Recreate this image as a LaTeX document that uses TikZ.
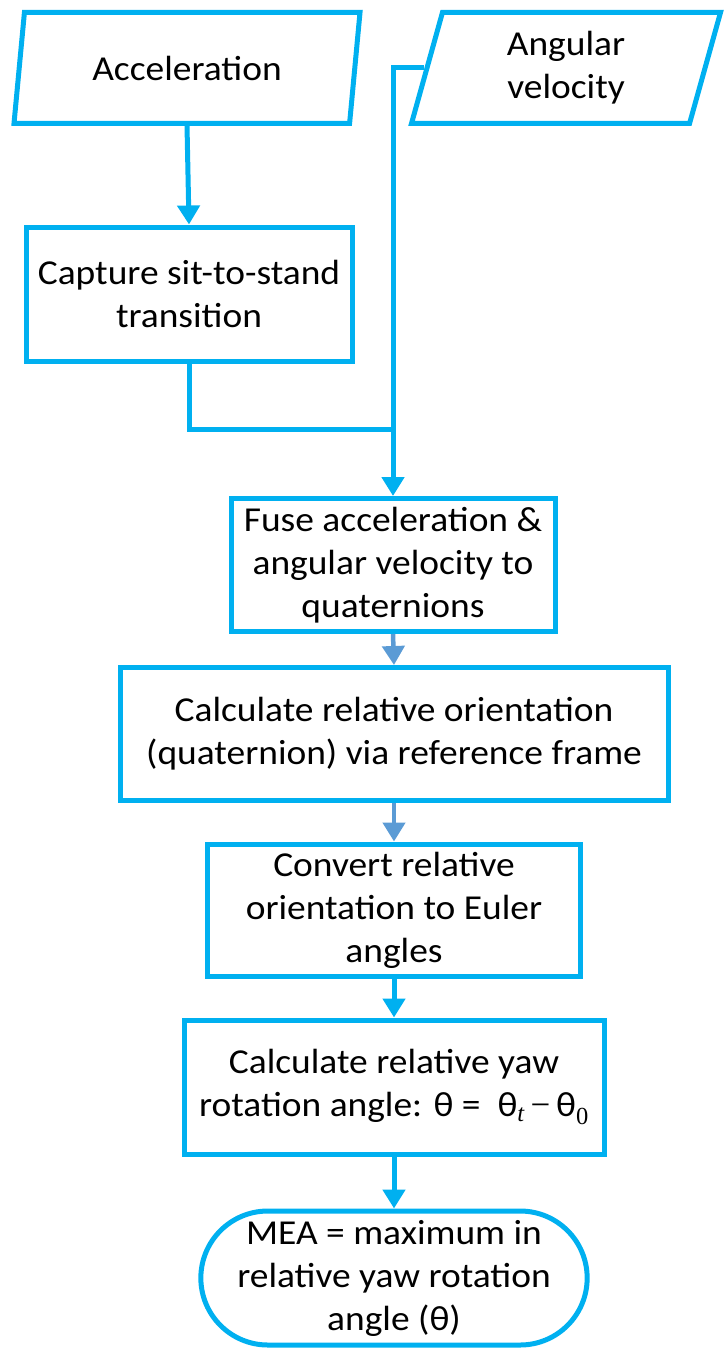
\documentclass[tikz,border=0pt]{standalone}
\usepackage{fontspec}
\setmainfont{Carlito}[FakeStretch=1.07]
\newfontfamily\tnr{Liberation Serif}
\usetikzlibrary{arrows.meta, shapes.geometric, shapes.misc}
\definecolor{flowcyan}{RGB}{0,176,240}
\definecolor{flowsteel}{RGB}{91,155,213}
\begin{document}
\begin{tikzpicture}[x=1pt, y=-1pt, >={Triangle[width=22pt,length=19pt]},
  every node/.style={font=\fontsize{35}{43}\selectfont, align=center},
  procbox/.style={draw=flowcyan, line width=5pt, rectangle},
  iobox/.style={draw=flowcyan, line width=5pt, trapezium, trapezium left angle=67,
    trapezium right angle=113, trapezium stretches body, inner sep=0pt},
  endbox/.style={draw=flowcyan, line width=5pt, rounded rectangle},
  flow/.style={draw=flowcyan, line width=5pt},
  flowalt/.style={draw=flowsteel, line width=4.5pt}]
  \useasboundingbox (0,0) rectangle (724,1351);

  % 1. inputs
  \node[iobox, minimum width=346pt, minimum height=111pt] (acc) at (187,68) {Acceleration};
  \node[iobox, minimum width=309pt, minimum height=111pt] (ang) at (566,68) {Angular\\velocity};

  % 2. processing chain
  \node[procbox, minimum width=326pt, minimum height=134pt] (capture) at (189,294) {Capture sit-to-stand\\transition};
  \node[procbox, minimum width=324pt, minimum height=133pt] (fuse) at (393,565) {Fuse acceleration \&\\angular velocity to\\quaternions};
  \node[procbox, minimum width=548pt, minimum height=133pt] (relor) at (394,734) {Calculate relative orientation\\(quaternion) via reference frame};
  \node[procbox, minimum width=373pt, minimum height=132pt] (euler) at (394,910) {Convert relative\\orientation to Euler\\angles};
  \node[procbox, minimum width=420pt, minimum height=134pt] (yaw) at (394,1087)
    {Calculate relative yaw\\rotation angle: θ = \ θ{\tnr\textsubscript{\itshape t}\,−\,}θ{\tnr\textsubscript{0}}};
  \node[endbox, minimum width=393pt, minimum height=134pt] (mea) at (394,1278) {MEA = maximum in\\relative yaw rotation\\angle (θ)};

  % 3. connectors
  \coordinate (merge) at (393,429);
  \draw[flow, ->] (acc.south) -- (capture.north);
  \draw[flow, ->] (ang.west) -| (fuse.north);
  \draw[flow] (capture.south) |- (merge);
  \draw[flowalt, ->] (fuse.south) -- (relor.north);
  \draw[flowalt, ->] (relor.south) -- (euler.north);
  \draw[flow, ->] (euler.south) -- (yaw.north);
  \draw[flow, ->] (yaw.south) -- (mea.north);
\end{tikzpicture}
\end{document}
